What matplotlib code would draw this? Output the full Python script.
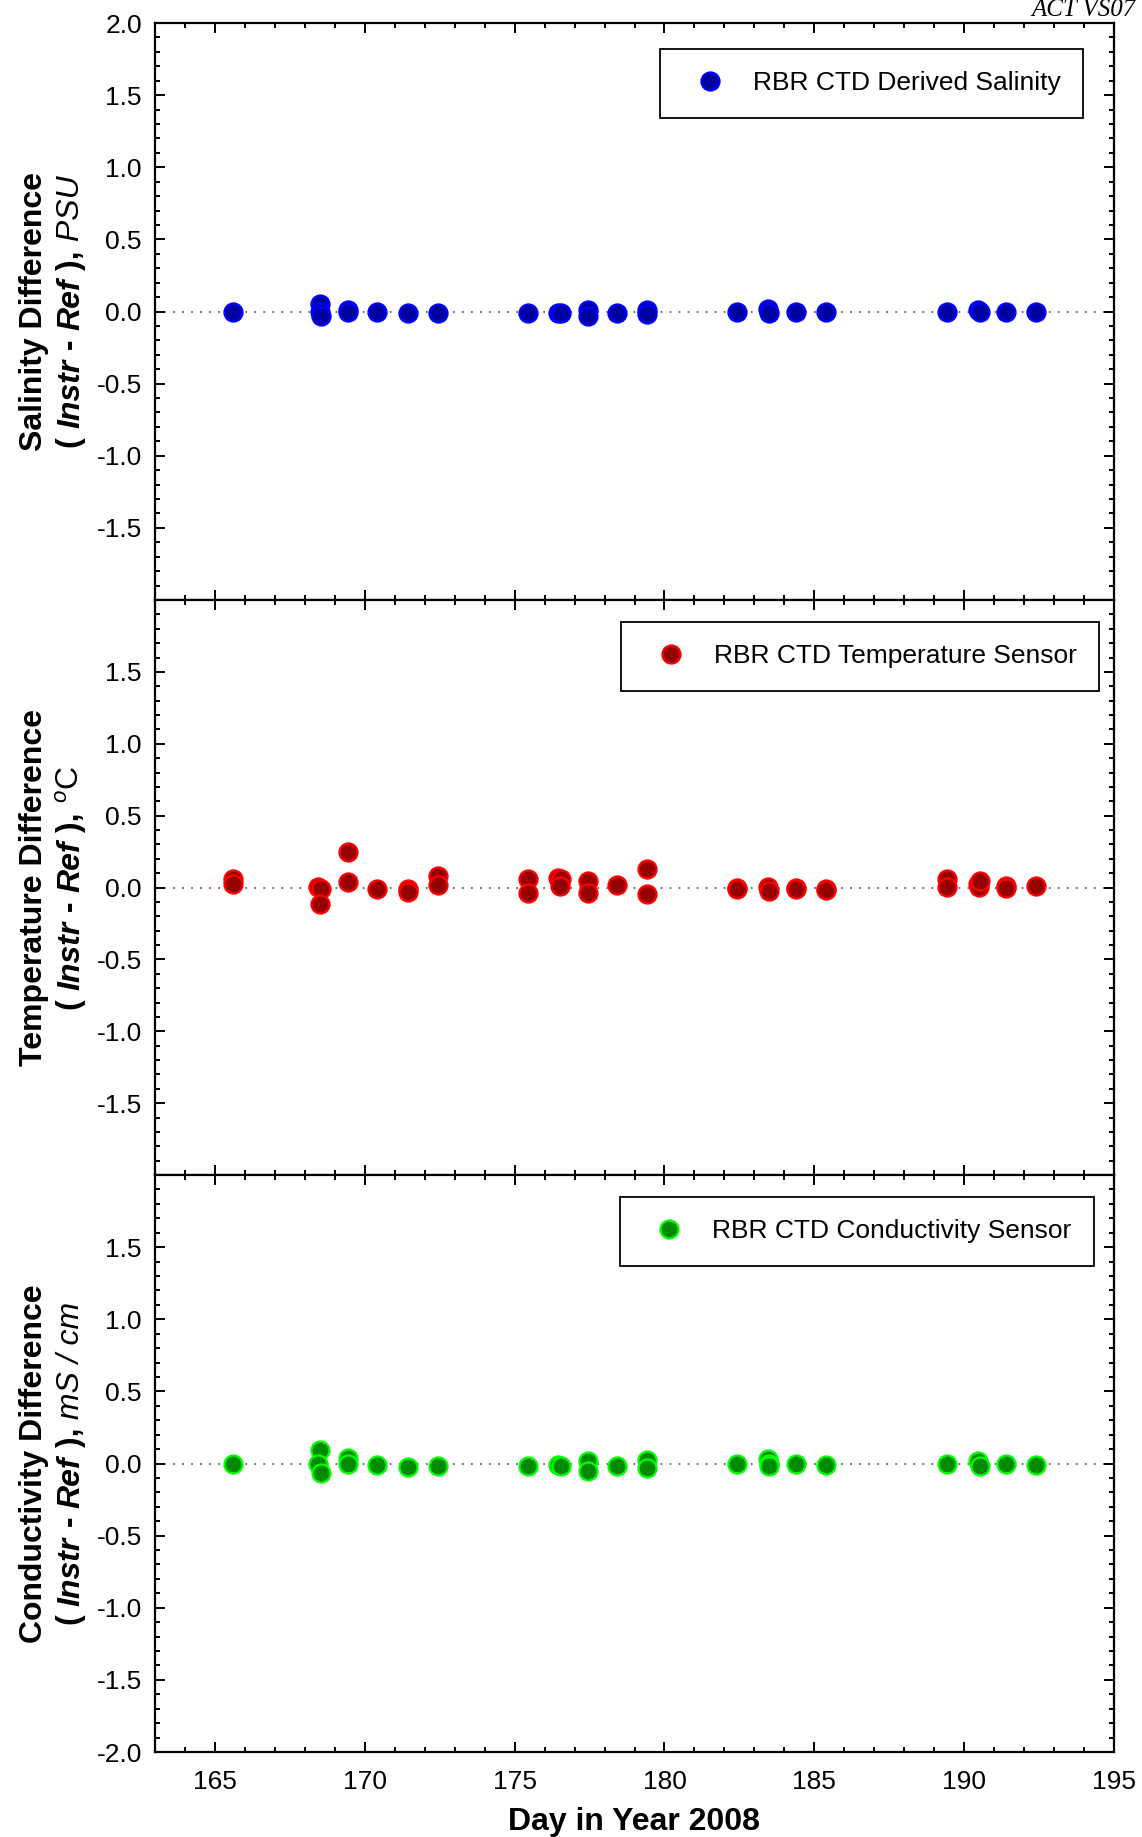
import matplotlib
matplotlib.use('AGG')
import matplotlib.pyplot as plt
import numpy as np

plt.rcParams['font.family'] = ['Liberation Sans', 'DejaVu Sans']
plt.rcParams['mathtext.fontset'] = 'custom'
plt.rcParams['mathtext.rm'] = 'Liberation Sans'
plt.rcParams['mathtext.it'] = 'Liberation Sans:italic'

# ---- data ----
days_sal = [165.6, 168.5, 168.5, 168.55, 169.45, 169.45, 170.42, 171.44, 172.44,
            175.44, 176.45, 176.55, 177.45, 177.45, 178.42, 179.42, 179.42,
            182.42, 183.45, 183.5, 184.4, 185.4, 189.42, 190.45, 190.52, 191.41, 192.4]
sal_diff = [0.0, 0.05, 0.0, -0.03, 0.01, 0.0, -0.005, -0.01, -0.01,
            -0.01, -0.01, -0.01, 0.01, -0.03, -0.01, 0.01, -0.015,
            0.0, 0.02, -0.01, 0.0, 0.0, 0.0, 0.01, -0.005, 0.0, 0.0]

days_tmp = [165.6, 165.6, 168.45, 168.55, 168.5, 169.45, 169.45, 170.42, 171.44, 171.44,
            172.44, 172.44, 175.44, 175.44, 176.45, 176.55, 176.5, 177.45, 177.45, 178.42,
            179.42, 179.42, 182.42, 182.42, 183.45, 183.5, 184.4, 184.4, 185.4, 185.4,
            189.42, 189.42, 190.45, 190.5, 190.52, 191.41, 191.41, 192.4]
tmp_diff = [0.056, 0.023, 0.005, -0.007, -0.116, 0.25, 0.04, -0.01, -0.007, -0.03,
            0.08, 0.02, 0.056, -0.035, 0.067, 0.058, 0.01, 0.044, -0.035, 0.016,
            0.128, -0.046, 0.0, -0.01, 0.005, -0.025, 0.0, -0.01, -0.007, -0.02,
            0.056, 0.005, 0.023, 0.005, 0.046, 0.01, 0.0, 0.012]

days_cond = [165.6, 168.5, 168.45, 168.55, 169.45, 169.45, 170.42, 171.44, 172.44,
             175.44, 176.45, 176.55, 177.45, 177.45, 178.42, 179.42, 179.42,
             182.42, 183.45, 183.48, 183.5, 184.4, 185.4, 189.42, 190.45, 190.52, 191.41, 192.4]
cond_diff = [0.0, 0.093, -0.005, -0.063, 0.037, -0.005, -0.01, -0.023, -0.016,
             -0.016, -0.012, -0.02, 0.019, -0.05, -0.02, 0.023, -0.028,
             0.0, 0.03, 0.0, -0.016, -0.005, -0.012, 0.0, 0.014, -0.016, -0.005, -0.012]

series = [
    (days_sal, sal_diff, 'RBR CTD Derived Salinity', '#0000a0', '#0000ff'),
    (days_tmp, tmp_diff, 'RBR CTD Temperature Sensor', '#960000', '#ff0000'),
    (days_cond, cond_diff, 'RBR CTD Conductivity Sensor', '#008a00', '#00ff00'),
]
ylabel_top = ['Salinity Difference', 'Temperature Difference', 'Conductivity Difference']
ylabel_unit = [' PSU', r' $^{o}$C', ' mS / cm']
ytick_vals = [-2.0, -1.5, -1.0, -0.5, 0.0, 0.5, 1.0, 1.5, 2.0]
ytick_show = [(-1.5, 2.0), (-1.5, 1.5), (-2.0, 1.5)]
legend_anchor = [(0.9677, 0.955), (0.9844, 0.962), (0.979, 0.962)]

W, H = 1142, 1837
fig = plt.figure(figsize=(W / 100, H / 100), dpi=100)

left, right = 155, 1114
edges = [23, 600, 1175, 1752]
axes = []
for i in range(3):
    ax = fig.add_axes([left / W, 1 - edges[i + 1] / H, (right - left) / W,
                       (edges[i + 1] - edges[i]) / H])
    axes.append(ax)

for i, ax in enumerate(axes):
    x, y, lab, face, edge = series[i]
    ax.axhline(0, color='#666666', ls=(0, (1, 4)), lw=1.3, zorder=1)
    ax.plot(x, y, 'o', ls='none', ms=13, mfc=face, mec=edge, mew=1.6, label=lab, zorder=3)
    ax.set_xlim(163, 195)
    ax.set_ylim(-2, 2)
    ax.set_xticks(np.arange(165, 196, 5))
    ax.set_xticks(np.arange(163, 196, 1), minor=True)
    ax.set_yticks(ytick_vals)
    ax.set_yticks(np.arange(-2.0, 2.01, 0.1), minor=True)
    lo, hi = ytick_show[i]
    ax.set_yticklabels(['%.1f' % v if lo - 1e-6 <= v <= hi + 1e-6 else '' for v in ytick_vals])
    ax.tick_params(which='both', direction='in', top=True, right=True, width=1.4,
                   labelsize=19)
    ax.tick_params(which='major', length=7.5)
    ax.tick_params(which='minor', length=3.8)
    ax.tick_params(axis='y', pad=9.5)
    ax.tick_params(axis='x', pad=13)
    if i < 2:
        ax.tick_params(axis='x', labelbottom=False)
    for s in ax.spines.values():
        s.set_linewidth(1.6)
    leg = ax.legend(loc='upper right', bbox_to_anchor=legend_anchor[i], fontsize=19,
                    fancybox=False, edgecolor='black', framealpha=1, borderpad=0.85,
                    handlelength=2.05, handletextpad=0.6, borderaxespad=0)
    leg.get_frame().set_linewidth(1.3)

axes[2].set_xlabel('Day in Year 2008', fontsize=23, fontweight='bold', labelpad=9)

# ---- two-line y labels with mixed bold / italic pieces ----
renderer = fig.canvas.get_renderer()


def piece_width(s, **kw):
    t = fig.text(0, 0, 'X' + s + 'X', fontsize=23, **kw)
    w1 = t.get_window_extent(renderer).width
    t.remove()
    t = fig.text(0, 0, 'XX', fontsize=23, **kw)
    w2 = t.get_window_extent(renderer).width
    t.remove()
    return w1 - w2


base1_x = 42
base2_x = 79
for i in range(3):
    yc = (edges[i] + edges[i + 1]) / 2.0
    fig.text(base1_x / W, 1 - yc / H, ylabel_top[i], fontsize=23, fontweight='bold',
             rotation=90, rotation_mode='anchor', ha='center', va='baseline')
    pieces = [('( ', dict(fontweight='bold')),
              ('Instr', dict(fontweight='bold', fontstyle='italic')),
              (' - ', dict(fontweight='bold')),
              ('Ref', dict(fontweight='bold', fontstyle='italic')),
              (' ),', dict(fontweight='bold')),
              (ylabel_unit[i], dict(fontstyle='italic' if i != 1 else 'normal'))]
    widths = [piece_width(s, **kw) for s, kw in pieces]
    pos = yc + sum(widths) / 2.0
    for (s, kw), w in zip(pieces, widths):
        fig.text(base2_x / W, 1 - pos / H, s, fontsize=23, rotation=90,
                 rotation_mode='anchor', ha='left', va='baseline', **kw)
        pos -= w

fig.text(1031 / W, 1 - 16 / H, 'ACT VS07', fontsize=18, fontstyle='italic',
         family='Liberation Serif', ha='left', va='baseline')

plt.savefig('out.png', dpi=100)
plt.close('all')
